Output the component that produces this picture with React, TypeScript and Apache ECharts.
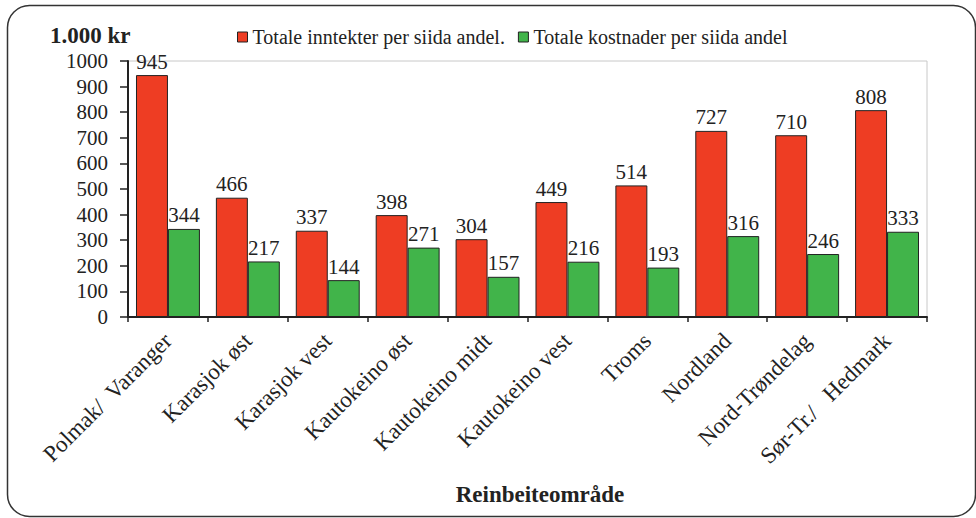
import React, { useEffect, useRef } from "react";
import * as echarts from "echarts";

const categories = [
  "Polmak/  Varanger",
  "Karasjok øst",
  "Karasjok vest",
  "Kautokeino øst",
  "Kautokeino midt",
  "Kautokeino vest",
  "Troms",
  "Nordland",
  "Nord-Trøndelag",
  "Sør-Tr./   Hedmark",
];
const inntekter = [945, 466, 337, 398, 304, 449, 514, 727, 710, 808];
const kostnader = [344, 217, 144, 271, 157, 216, 193, 316, 246, 333];
const seriesNames = ["Totale inntekter per siida andel.", "Totale kostnader per siida andel"];
const yTitle = "1.000 kr";
const xTitle = "Reinbeiteområde";

const FONT = "Liberation Serif";

export default function App() {
  const ref = useRef<HTMLDivElement>(null);
  useEffect(() => {
    if (!ref.current) return;
    const chart = echarts.init(ref.current, undefined, { renderer: "svg" });
    const labelStyle = {
      show: true,
      position: "top" as const,
      distance: 3,
      color: "#222",
      fontFamily: FONT,
      fontSize: 21,
    };
    chart.setOption({
      animation: false,
      textStyle: { fontFamily: FONT },
      graphic: [
        {
          type: "rect",
          shape: { x: 7.5, y: 5.5, width: 968, height: 511, r: 22 },
          style: { fill: "none", stroke: "#333", lineWidth: 1.5 },
          silent: true,
        },
        {
          type: "text",
          x: 50,
          y: 35,
          style: {
            text: yTitle,
            fontFamily: FONT,
            fontSize: 23,
            fontWeight: "bold",
            fill: "#222",
            verticalAlign: "middle",
          },
        },
        {
          type: "text",
          x: 540,
          y: 494,
          style: {
            text: xTitle,
            fontFamily: FONT,
            fontSize: 23,
            fontWeight: "bold",
            fill: "#222",
            align: "center",
            verticalAlign: "middle",
          },
        },
      ],
      legend: {
        top: 22,
        left: 232,
        itemWidth: 10,
        itemHeight: 10,
        itemGap: 13,
        icon: "rect",
        textStyle: { fontFamily: FONT, fontSize: 20, color: "#222", padding: [0, 0, 0, 0] },
        data: seriesNames.map((n) => ({
          name: n,
          itemStyle: { borderColor: "#222", borderWidth: 1 },
        })),
      },
      grid: {
        left: 128,
        right: 49,
        top: 61,
        bottom: 201,
        show: true,
        borderColor: "#c8c8c8",
        borderWidth: 1,
      },
      xAxis: {
        type: "category",
        data: categories,
        axisLine: { lineStyle: { color: "#222", width: 2 } },
        axisTick: { show: true, length: 5, alignWithLabel: false, lineStyle: { color: "#222", width: 1.5 } },
        axisLabel: {
          rotate: 45,
          interval: 0,
          margin: 20,
          color: "#222",
          fontFamily: FONT,
          fontSize: 23,
        },
      },
      yAxis: {
        type: "value",
        min: 0,
        max: 1000,
        interval: 100,
        splitLine: { show: false },
        axisLine: { show: true, lineStyle: { color: "#222", width: 2 } },
        axisTick: { show: true, length: 8, lineStyle: { color: "#222", width: 1.5 } },
        axisLabel: {
          margin: 20,
          color: "#222",
          fontFamily: FONT,
          fontSize: 21,
          formatter: (v: number) => String(v),
        },
      },
      series: [
        {
          name: seriesNames[0],
          type: "bar",
          data: inntekter,
          barGap: "0%",
          barCategoryGap: "20%",
          itemStyle: { color: "#EE3D23", borderColor: "#222", borderWidth: 1 },
          label: labelStyle,
        },
        {
          name: seriesNames[1],
          type: "bar",
          data: kostnader,
          barGap: "0%",
          barCategoryGap: "20%",
          itemStyle: { color: "#41B44A", borderColor: "#222", borderWidth: 1 },
          label: labelStyle,
        },
      ],
    });
    return () => chart.dispose();
  }, []);
  return <div ref={ref} style={{ width: 976, height: 518, position: "absolute", left: 0, top: 0 }} />;
}
